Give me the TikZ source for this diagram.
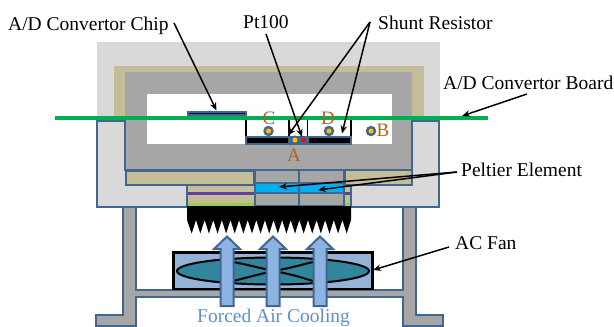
\documentclass[tikz,border=0pt]{standalone}
\usepackage{fontspec}
\setmainfont{Liberation Serif}
\definecolor{edgeblue}{HTML}{41668F}
\definecolor{lightgr}{HTML}{D9D9D9}
\definecolor{midgr}{HTML}{A6A6A6}
\definecolor{tanc}{HTML}{C4BD97}
\definecolor{band}{HTML}{00B0F0}
\definecolor{boardg}{HTML}{00B050}
\definecolor{brownc}{HTML}{B5611F}
\definecolor{arrowfill}{HTML}{8DB3E2}
\definecolor{teal}{HTML}{31859C}
\definecolor{fanbg}{HTML}{95B3D7}
\definecolor{dotc}{HTML}{FFC000}
\definecolor{purplec}{HTML}{60409F}
\definecolor{limec}{HTML}{92D050}
\definecolor{aircolor}{HTML}{5F8FCB}
\usetikzlibrary{arrows.meta}
\tikzset{
  part/.style={draw=edgeblue,line width=2pt},
  thinpart/.style={draw=edgeblue,line width=1.5pt},
  callout/.style={draw=black,line width=1.5pt,-{Stealth[length=8pt,width=6.5pt]}},
  lbl/.style={font=\fontsize{19.5}{22}\selectfont,inner sep=0pt,anchor=base west,text=black},
  letter/.style={font=\fontsize{19}{22}\selectfont,inner sep=0pt,text=brownc},
  sensor/.style={circle,fill=edgeblue,minimum size=10.5pt,inner sep=0pt},
  sensorcore/.style={circle,fill=dotc,minimum size=5pt,inner sep=0pt},
  upshape/.style={draw=edgeblue,line width=2pt,fill=arrowfill,line join=miter},
}
\begin{document}
\begin{tikzpicture}[x=1pt,y=-1pt]
\useasboundingbox (0,0) rectangle (614,327);
\clip (0,0) rectangle (614,327);
% housing
\fill[lightgr] (97,42) rectangle (440,125);
\fill[tanc] (114,66) rectangle (424,125);
\fill[midgr] (125,72) rectangle (412,172);
\fill[white] (147,94) rectangle (392,144);
% side blocks
\draw[part,fill=lightgr] (97,121) -- (125,121) -- (125,170) -- (254,170) -- (254,207) -- (97,207) -- cycle;
\draw[part,fill=lightgr] (412,121) -- (439,121) -- (439,207) -- (344,207) -- (344,170) -- (412,170) -- cycle;
% stacks
\fill[tanc] (187,184) rectangle (254,203);
\fill[tanc] (344,184) rectangle (351,203);
\fill[limec] (187,203) rectangle (254,206);
\fill[limec] (344,203) rectangle (351,206);
\fill[purplec] (187,192) rectangle (254,195);
\fill[purplec] (344,192) rectangle (351,195);
\draw[edgeblue,line width=1.5pt] (187,184) -- (187,207);
\draw[edgeblue,line width=1.5pt] (351,185) -- (351,207);
\draw[part,fill=tanc] (126,171) rectangle (254,184.5);
\draw[part,fill=tanc] (345,170) rectangle (412,185);
% peltier cells
\draw[thinpart,fill=midgr] (255,170) rectangle (299,206);
\draw[thinpart,fill=midgr] (299,170) rectangle (344,206);
\draw[thinpart,fill=band] (255,183) rectangle (344,193);
\draw[edgeblue,line width=1.5pt] (299,170) -- (299,206);
% heat sink
\fill[black] (187,206) -- (351,206) -- (351,220) -- (346.7,233.5) -- (342.4,220)
  \foreach \n in {1,...,17}{ -- ({346.7-8.61*\n},233.5) -- ({342.4-8.61*\n},220) }
  -- (191.7,233.5) -- (187,220) -- cycle;
% stand
\draw[part,fill=midgr] (123,207) -- (136,207) -- (136,289.5) -- (403,289.5) -- (403,207) -- (416,207) -- (416,315) -- (443,315) -- (443,326) -- (403,326) -- (403,297) -- (136,297) -- (136,326) -- (96,326) -- (96,315) -- (123,315) -- cycle;
% fan
\draw[draw=black,line width=2.5pt,fill=fanbg] (173.5,252.5) rectangle (372.5,289);
\draw[draw=black,line width=2pt,fill=teal] (273,271) ellipse (96 and 13.5);
\draw[black,line width=2pt] (233,262) .. controls (250,265) and (262,269) .. (280,272) (233,281) .. controls (250,277) and (262,273) .. (280,270)
 (313,262) .. controls (300,265) and (288,269) .. (266,272) (313,281) .. controls (300,277) and (288,273) .. (266,270);
% up arrows
\foreach \cx in {227,273,320}{
  \draw[upshape] (\cx-6.5,306) -- (\cx+6.5,306) -- (\cx+6.5,249) -- (\cx+13,249) -- (\cx,236.5) -- (\cx-13,249) -- (\cx-6.5,249) -- cycle;
}
% board parts
\fill[edgeblue] (187,111) rectangle (247,116.5);
\draw[black!80!blue,line width=0.8pt] (189,113.5) -- (245,113.5);
\draw[black,line width=1.3pt] (246,119) -- (246,138) (289,119) -- (289,138) (307.5,119) -- (307.5,138) (351,119) -- (351,138);
\draw[draw=edgeblue,line width=2pt,fill=black] (246,137) rectangle (289,143.5);
\draw[draw=edgeblue,line width=2pt,fill=black] (308,137) rectangle (351,143.5);
\fill[edgeblue] (289,136) rectangle (308,144.5);
\node[sensor] (sC) at (268.5,131) {};\node[sensorcore] at (268.5,131) {};
\node[sensor] (sD) at (329,131) {};\node[sensorcore] at (329,131) {};
\node[sensor] (sB) at (371,131) {};\node[sensorcore] at (371,131) {};
\node[sensor,minimum size=9pt] (sA) at (295,140) {};\node[sensorcore] at (295,140) {};
\node[circle,fill=red,minimum size=4.5pt,inner sep=0pt] (pt) at (303.5,140) {};
% board
\fill[boardg] (55,116) rectangle (488,120);
% letters
\node[letter] at (269,118) {C};
\node[letter] at (328,118) {D};
\node[letter] at (383,130) {B};
\node[letter] at (294,155) {A};
% labels
\node[lbl] (chip) at (8,30) {A/D Convertor Chip};
\node[lbl] (ptl) at (243,28) {Pt100};
\node[lbl] (sh) at (378,29) {Shunt Resistor};
\node[lbl] (bd) at (443,89) {A/D Convertor Board};
\node[lbl] (pe) at (461,176) {Peltier Element};
\node[lbl] (ac) at (455,249) {AC Fan};
\node[lbl,text=aircolor] (fa) at (197,322.5) {Forced Air Cooling};
% callouts
\coordinate (chipT) at (216.5,110.5);
\coordinate (ptT) at (302,137);
\coordinate (shA) at (288,135.5);
\coordinate (shB) at (342,133.5);
\coordinate (bdT) at (462,116);
\coordinate (peA) at (279,187);
\coordinate (peB) at (318,190);
\coordinate (fanT) at (373,270);
\coordinate (chipS) at (174,23);
\coordinate (ptS) at (266,34);
\coordinate (shS) at (370,22);
\coordinate (bdS) at (527,94);
\coordinate (peS) at (457,172);
\coordinate (acS) at (449,247);
\draw[callout] (chipS) -- (chipT);
\draw[callout] (ptS) -- (ptT);
\draw[callout] (shS) -- (shA);
\draw[callout] (shS) -- (shB);
\draw[callout] (bdS) -- (bdT);
\draw[callout] (peS) -- (peA);
\draw[callout] (peS) -- (peB);
\draw[callout] (acS) -- (fanT);
\end{tikzpicture}
\end{document}
